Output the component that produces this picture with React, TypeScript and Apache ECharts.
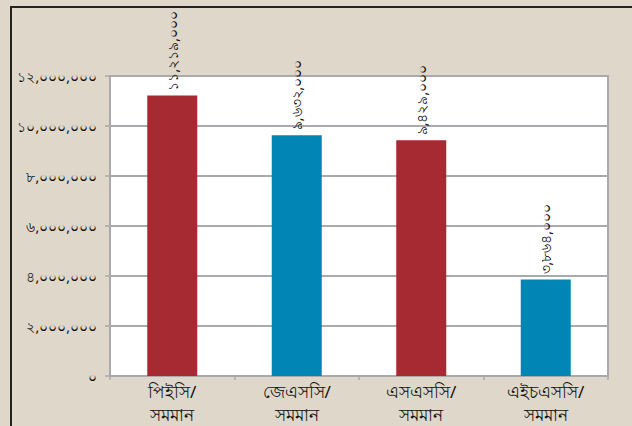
import React, { useEffect, useRef } from "react";
import * as echarts from "echarts";

const categories = ["পিইসি/\nসমমান", "জেএসসি/\nসমমান", "এসএসসি/\nসমমান", "এইচএসসি/\nসমমান"];
const values = [11219000, 9632000, 9429000, 3864000];
const barColors = ["#a52a32", "#0085b5", "#a52a32", "#0085b5"];
const yTicks = [0, 2000000, 4000000, 6000000, 8000000, 10000000, 12000000];

const bnDigits = ["০", "১", "২", "৩", "৪", "৫", "৬", "৭", "৮", "৯"];
const toBn = (n: number) =>
  n
    .toString()
    .replace(/\B(?=(\d{3})+(?!\d))/g, ",")
    .replace(/\d/g, (d) => bnDigits[Number(d)]);

export default function App() {
  const ref = useRef<HTMLDivElement>(null);
  useEffect(() => {
    if (!ref.current) return;
    const chart = echarts.init(ref.current, null, { renderer: "svg" });
    const font = "'Noto Sans', 'DejaVu Sans', sans-serif";
    chart.setOption({
      animation: false,
      backgroundColor: "#ded7ca",
      graphic: [
        {
          type: "line",
          shape: { x1: 10, y1: 7, x2: 632, y2: 7 },
          style: { stroke: "#222", lineWidth: 2 },
          silent: true,
          z: 100,
        },
        {
          type: "line",
          shape: { x1: 11, y1: 6, x2: 11, y2: 426 },
          style: { stroke: "#222", lineWidth: 2 },
          silent: true,
          z: 100,
        },
      ],
      grid: {
        left: 110,
        right: 24,
        top: 76,
        bottom: 50,
        show: true,
        backgroundColor: "#ffffff",
        borderColor: "#a9a9ae",
        borderWidth: 2,
      },
      xAxis: {
        type: "category",
        data: categories,
        axisLine: { lineStyle: { color: "#a9a9ae", width: 2 } },
        axisTick: { show: true, alignWithLabel: false, length: 4, lineStyle: { color: "#a9a9ae", width: 1.5 } },
        axisLabel: {
          color: "#111",
          fontSize: 17,
          fontFamily: font,
          lineHeight: 23,
          margin: 4,
        },
      },
      yAxis: {
        type: "value",
        min: 0,
        max: 12000000,
        interval: 2000000,
        axisLine: { show: true, lineStyle: { color: "#a9a9ae", width: 2 } },
        axisTick: { show: true, length: 5, lineStyle: { color: "#a9a9ae", width: 1.5 } },
        splitLine: { lineStyle: { color: "#a9a9ae", width: 2 } },
        axisLabel: {
          color: "#111",
          fontSize: 14,
          fontFamily: font,
          margin: 13,
          formatter: (v: number) => (yTicks.includes(v) ? toBn(v) : ""),
        },
      },
      series: [
        {
          type: "bar",
          barWidth: 50,
          data: values.map((v, i) => ({ value: v, itemStyle: { color: barColors[i] } })),
          label: {
            show: true,
            position: "top",
            rotate: 90,
            align: "left",
            verticalAlign: "middle",
            distance: 5,
            color: "#111",
            fontSize: 14,
            fontFamily: font,
            formatter: (p: any) => toBn(p.value),
          },
        },
      ],
    });
    return () => chart.dispose();
  }, []);
  return (
    <div
      ref={ref}
      style={{ position: "fixed", left: 0, top: 0, width: 632, height: 426 }}
    />
  );
}
